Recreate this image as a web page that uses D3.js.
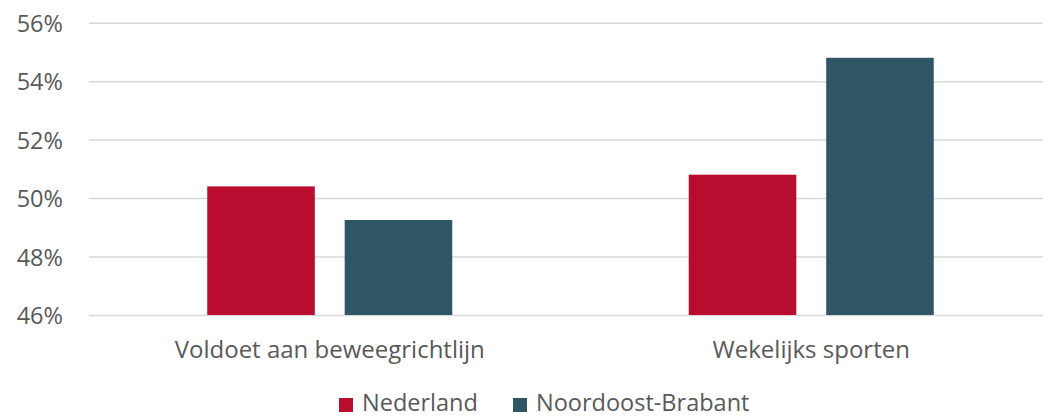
<!DOCTYPE html>
<html>
<head>
<meta charset="utf-8">
<script src="https://cdn.jsdelivr.net/npm/d3@7"></script>
<style>
  html, body { margin: 0; padding: 0; background: #fff; }
  svg { display: block; }
  text { font-family: "Open Sans"; fill: #595959; }
</style>
</head>
<body>
<svg id="chart" width="1043" height="417"></svg>
<script>
// Share of residents (%) per indicator
const categories = ["Voldoet aan beweegrichtlijn", "Wekelijks sporten"];
const seriesNames = ["Nederland", "Noordoost-Brabant"];
const nederland = [50.4, 50.8];
const noordoostBrabant = [49.25, 54.8];
const yTicks = [46, 48, 50, 52, 54, 56];
const colors = ["#BA0C2F", "#2E5665"];

const seriesValues = [nederland, noordoostBrabant];
const rows = categories.map((c, i) => ({
  category: c,
  values: seriesNames.map((s, j) => ({ series: s, value: seriesValues[j][i] }))
}));

const FONT = "23.5px";
const svg = d3.select("#chart");
const plot = { left: 89, right: 1052, top: 22.7, bottom: 315 };

const x0 = d3.scaleBand().domain(categories).range([plot.left, plot.right]);
const x1 = d3.scaleBand().domain(seriesNames).range([0, 245]).paddingInner(30 / 138);
const y = d3.scaleLinear().domain([46, 56]).range([plot.bottom, plot.top]);
const color = d3.scaleOrdinal().domain(seriesNames).range(colors);

// gridlines + tick labels
const yAxis = d3.axisLeft(y).tickValues(yTicks).tickFormat(d => d + "%")
  .tickSize(-(plot.right - plot.left)).tickPadding(26);
const gy = svg.append("g").attr("transform", `translate(${plot.left},0)`).call(yAxis);
gy.attr("font-family", null).attr("font-size", null);
gy.select(".domain").remove();
gy.selectAll(".tick line").attr("stroke", "#d9d9d9").attr("stroke-width", 1.5);
gy.selectAll(".tick text").attr("fill", "#595959").style("font-size", FONT)
  .attr("dy", "0.36em").attr("x", -26);

// bars
const groups = svg.append("g").selectAll("g").data(rows).join("g")
  .attr("transform", d => `translate(${x0(d.category) + (x0.bandwidth() - 245) / 2},0)`);
groups.selectAll("rect").data(d => d.values).join("rect")
  .attr("x", d => x1(d.series))
  .attr("width", x1.bandwidth())
  .attr("y", d => y(d.value))
  .attr("height", d => y(46) - y(d.value))
  .attr("fill", d => color(d.series));

// category labels
svg.append("g").selectAll("text").data(categories).join("text")
  .attr("x", d => x0(d) + x0.bandwidth() / 2)
  .attr("y", 358)
  .attr("text-anchor", "middle")
  .style("font-size", "24px")
  .text(d => d);

// legend
const legendX = [339, 513];
const lg = svg.append("g").selectAll("g").data(seriesNames).join("g")
  .attr("transform", (d, i) => `translate(${legendX[i]},0)`);
lg.append("rect").attr("x", 0).attr("y", 398).attr("width", 14).attr("height", 14)
  .attr("fill", d => color(d));
lg.append("text").attr("x", 23).attr("y", 411).style("font-size", FONT).text(d => d);
</script>
</body>
</html>
